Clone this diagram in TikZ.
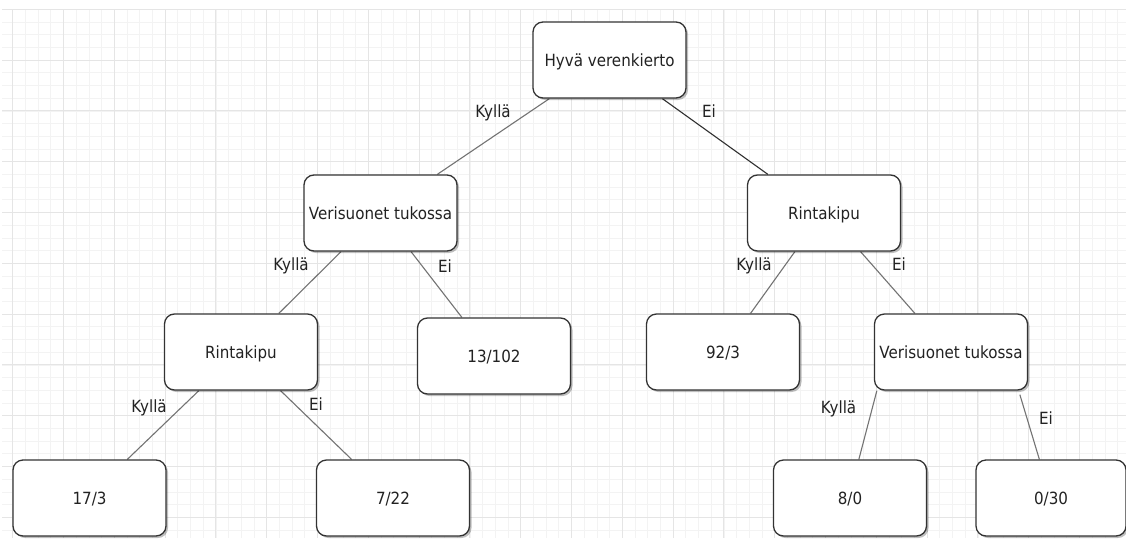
\documentclass[tikz,border=0pt]{standalone}
\usepackage{fontspec}
\setmainfont[FakeStretch=0.9]{DejaVu Sans}
\usetikzlibrary{shadows}
\pgfdeclarelayer{gridlayer}
\pgfdeclarelayer{background}
\pgfsetlayers{gridlayer,background,main}
\definecolor{boxc}{HTML}{333333}
\definecolor{txtc}{HTML}{222222}
\definecolor{edgec}{HTML}{737373}
\definecolor{edgedark}{HTML}{303030}
\definecolor{gridmajor}{HTML}{E5E5E5}
\definecolor{gridminor}{HTML}{F3F3F3}
\tikzset{
  treebox/.style={draw=boxc, line width=1.3pt, rounded corners=10pt, fill=white,
    minimum width=153pt, minimum height=76pt, inner sep=0pt,
    text=txtc, font=\fontsize{16.8}{20}\selectfont,
    text height=12.25pt, text depth=0pt,
    drop shadow={shadow xshift=2pt, shadow yshift=-2pt, fill=black, opacity=0.25}},
  branch/.style={text=txtc, inner sep=0pt, font=\fontsize{16.8}{20}\selectfont,
    text height=12.25pt, text depth=0pt},
  edge/.style={draw=edgec, line width=1.1pt},
  edgestrong/.style={draw=edgedark, line width=1.1pt}
}
\begin{document}
\begin{tikzpicture}[x=1pt,y=-1pt]
\useasboundingbox (0,0) rectangle (1126,538);

% background grid: fine lines every 12.7, heavier every 50.8
\begin{pgfonlayer}{gridlayer}
  \fill[white] (0,0) rectangle (1126,538);
  \foreach \i in {0,...,87}
    \draw[gridminor, line width=0.8pt] ({12.7+12.7*\i},9.3) -- ({12.7+12.7*\i},538);
  \foreach \j in {0,...,41}
    \draw[gridminor, line width=0.8pt] (2,{9.3+12.7*\j}) -- (1126,{9.3+12.7*\j});
  \foreach \i in {0,...,21}
    \draw[gridmajor, line width=0.9pt] ({12.7+50.8*\i},9.3) -- ({12.7+50.8*\i},538);
  \foreach \j in {0,...,10}
    \draw[gridmajor, line width=0.9pt] (2,{9.3+50.8*\j}) -- (1126,{9.3+50.8*\j});
\end{pgfonlayer}

% decision nodes and leaves
\node[treebox] (root) at (609.5,60) {Hyvä verenkierto};
\node[treebox] (vtl)  at (380.5,213) {Verisuonet tukossa};
\node[treebox] (rkr)  at (824,213) {Rintakipu};
\node[treebox] (rkl)  at (241,352) {Rintakipu};
\node[treebox] (l13)  at (494,356) {13/102};
\node[treebox] (l92)  at (723,352) {92/3};
\node[treebox] (vtr)  at (951,352) {Verisuonet tukossa};
\node[treebox] (l17)  at (89.5,498) {17/3};
\node[treebox] (l7)   at (393,498) {7/22};
\node[treebox] (l8)   at (850,498) {8/0};
\node[treebox, minimum width=150pt] (l0) at (1051,498) {0/30};

% branches
\begin{pgfonlayer}{background}
  \draw[edge]       ([xshift=17pt]root.south west)  -- ([xshift=134pt]vtl.north west);
  \draw[edgestrong] ([xshift=130pt]root.south west) -- ([xshift=21pt]rkr.north west);
  \draw[edge] ([xshift=37.7pt]vtl.south west)  -- ([xshift=115pt]rkl.north west);
  \draw[edge] ([xshift=107.7pt]vtl.south west) -- ([xshift=45pt]l13.north west);
  \draw[edge] ([xshift=48pt]rkr.south west)    -- ([xshift=104.7pt]l92.north west);
  \draw[edge] ([xshift=113.7pt]rkr.south west) -- ([xshift=41pt]vtr.north west);
  \draw[edge] ([xshift=35pt]rkl.south west)    -- ([xshift=115pt]l17.north west);
  \draw[edge] ([xshift=116.7pt]rkl.south west) -- ([xshift=35.7pt]l7.north west);
  \draw[edge] ([xshift=3pt]vtr.south west)     -- ([xshift=86pt]l8.north west);
  \draw[edge] ([xshift=146pt,yshift=-4pt]vtr.south west) -- ([xshift=64pt]l0.north west);
\end{pgfonlayer}

% branch labels
\node[branch] (k1) at (493,111) {Kyllä};
\node[branch] (e1) at (709,111) {Ei};
\node[branch] (k2) at (291,264) {Kyllä};
\node[branch] (e2) at (445,266.7) {Ei};
\node[branch] (k3) at (754,264) {Kyllä};
\node[branch] (e3) at (899,264) {Ei};
\node[branch] (k4) at (149,406) {Kyllä};
\node[branch] (e4) at (316,404.5) {Ei};
\node[branch] (k5) at (838.5,407) {Kyllä};
\node[branch] (e5) at (1046,418.5) {Ei};
\end{tikzpicture}
\end{document}
